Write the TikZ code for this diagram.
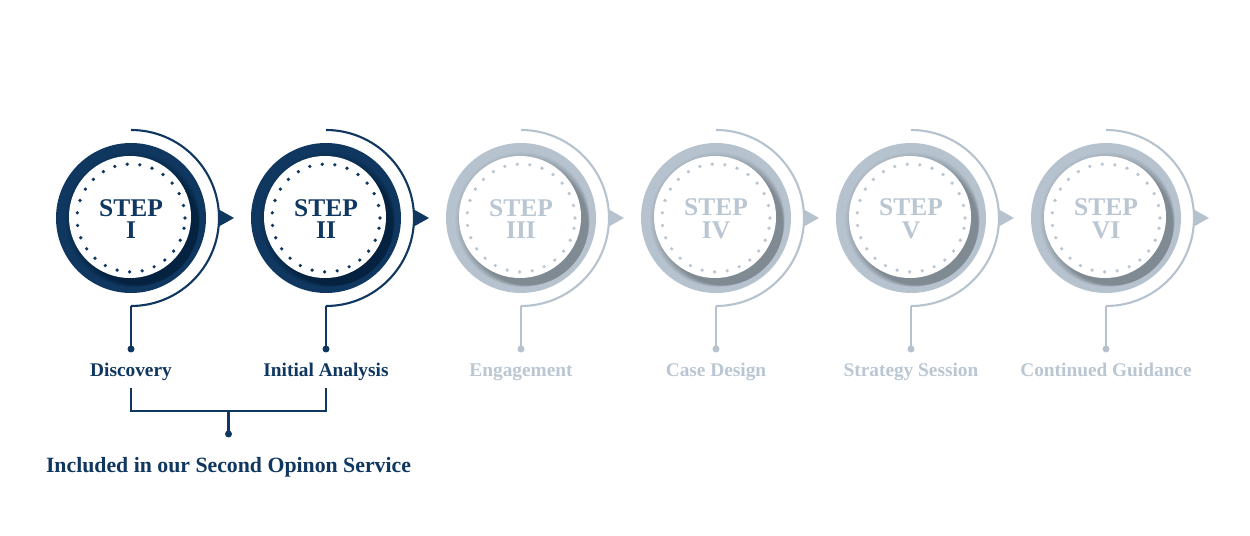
\documentclass[tikz,border=0pt]{standalone}
\usepackage{fontspec}
\setmainfont{Liberation Serif}
\usetikzlibrary{calc}
\definecolor{navy}{HTML}{0F3760}
\definecolor{pale}{HTML}{B6C3CF}
\definecolor{paletext}{HTML}{BAC6D2}
\begin{document}
\begin{tikzpicture}[x=0.02cm,y=-0.02cm,
  lbl/.style={font=\bfseries\fontsize{11}{13}\selectfont},
  steptxt/.style={font=\bfseries\fontsize{14.5}{13}\selectfont,align=center},
  dot/.style={circle,fill,inner sep=0pt,minimum size=0.14cm}]
\useasboundingbox (0,0) rectangle (1250,536);
\foreach \i/\r/\lab in {0/I/Discovery,1/II/Initial Analysis,2/III/Engagement,3/IV/Case Design,4/V/Strategy Session,5/VI/Continued Guidance}{
  \pgfmathsetmacro{\cx}{131+195*\i}
  \ifnum\i<2 \colorlet{cc}{navy}\colorlet{tc}{navy}\else\colorlet{cc}{pale}\colorlet{tc}{paletext}\fi
  \coordinate (c\i) at (\cx,218);
  \fill[cc] (c\i) circle[radius=75*0.02cm];
  % shadow
  \foreach \k in {1,...,10}{
    \fill[black,opacity=0.03] ($(c\i)+(1+\k*0.6,1+\k*0.6)$) circle[radius=(61+7-\k*0.8)*0.02cm];
  }
  \fill[white] ($(c\i)+(-1,-1)$) circle[radius=61*0.02cm];
  \draw[tc,line width=2.1pt,dash pattern=on 0pt off 7.2pt,line cap=round] (c\i) circle[radius=54*0.02cm];
  \node[steptxt,text=tc] (s\i) at ($(c\i)+(0,1)$) {STEP\\\r};
  \draw[cc,line width=1.2pt] ($(c\i)+(0,-88)$) arc[start angle=90,end angle=-90,radius=88*0.02cm] coordinate (b\i);
  \node[dot,fill=cc] (d\i) at (\cx,349) {};
  \draw[cc,line width=1.2pt] (b\i) -- (d\i.center);
  \fill[cc] (\cx+87,209) -- (\cx+103,218) -- (\cx+87,227) -- cycle;
  \node[lbl,text=tc,anchor=base] (l\i) at (\cx,377) {\lab};
}
\coordinate (k0) at (131,388);
\coordinate (k1) at (326,388);
\node[dot,fill=navy] (dd) at (228.5,434) {};
\draw[navy,line width=1.2pt] (k0) |- (326,411) -- (k1);
\draw[navy,line width=1.2pt] (228.5,411) -- (dd.center);
\node[text=navy,font=\bfseries\fontsize{12.4}{14}\selectfont,anchor=base] (inc) at (228.5,472) {Included in our Second Opinon Service};
\end{tikzpicture}
\end{document}
